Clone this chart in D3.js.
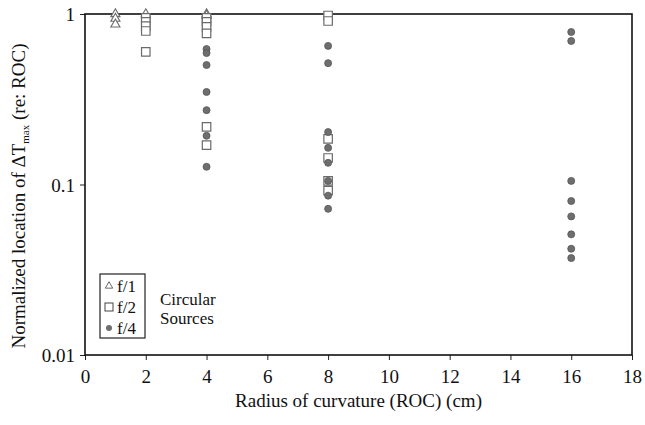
<!DOCTYPE html>
<html>
<head>
<meta charset="utf-8">
<script src="https://cdn.jsdelivr.net/npm/d3@7"></script>
<style>
  body { margin: 0; background: #fff; }
  text { font-family: "Liberation Serif", "DejaVu Serif", serif; fill: #111; }
</style>
</head>
<body>
<div id="chart"></div>
<script>
// Chart dimensions
var width = 645;
var height = 425;
var margin = {top: 14, right: 13, bottom: 70, left: 85};
var markerColor = "#6a6a6a";

// Values (x = ROC in cm, y = normalized location)
var f1X = [1, 1, 1, 2, 4, 4];
var f1Y = [1.0, 0.94, 0.87, 1.0, 1.0, 0.98];

var f2X = [2, 2, 2, 2, 2, 4, 4, 4, 4, 4, 4, 8, 8, 8, 8, 8, 8];
var f2Y = [0.95, 0.9, 0.85, 0.795, 0.6, 0.95, 0.9, 0.84, 0.77, 0.218, 0.17, 0.98, 0.91, 0.185, 0.143, 0.105, 0.092];

var f4X = [4, 4, 4, 4, 4, 4, 4, 8, 8, 8, 8, 8, 8, 8, 8, 16, 16, 16, 16, 16, 16, 16, 16];
var f4Y = [0.623, 0.59, 0.502, 0.349, 0.273, 0.193, 0.127,
           0.65, 0.515, 0.203, 0.164, 0.134, 0.105, 0.086, 0.072,
           0.784, 0.695, 0.105, 0.08, 0.065, 0.051, 0.042, 0.037];

var xTicks = [0, 2, 4, 6, 8, 10, 12, 14, 16, 18];
var yTicks = [0.01, 0.1, 1];
var legendLabels = ["f/1", "f/2", "f/4"];

var svg = d3.select("#chart")
    .append("svg")
    .attr("width", width)
    .attr("height", height);

var x = d3.scaleLinear().domain([0, 18]).range([margin.left, width - margin.right]);
var y = d3.scaleLog().domain([0.01, 1]).range([height - margin.bottom, margin.top]);

// Axes
var xAxis = svg.append("g")
    .attr("transform", "translate(0," + (height - margin.bottom) + ")")
    .call(d3.axisBottom(x).tickValues(xTicks).tickSize(5).tickFormat(d3.format("d")));

var yAxis = svg.append("g")
    .attr("transform", "translate(" + margin.left + ",0)")
    .call(d3.axisLeft(y).tickValues(yTicks).tickSize(5).tickFormat(function(d) { return String(d); }));

[xAxis, yAxis].forEach(function(ax) {
    ax.select(".domain").remove();
    ax.selectAll("line").attr("stroke", "#222");
    ax.selectAll("text")
        .style("font-family", "'Liberation Serif', serif")
        .style("font-size", "19px")
        .attr("fill", "#111");
});
xAxis.selectAll("text").attr("dy", "1.05em");
yAxis.selectAll("text").attr("x", -10).attr("dy", "0.35em");

// Plot frame
svg.append("rect")
    .attr("x", x(0))
    .attr("y", y(1))
    .attr("width", x(18) - x(0))
    .attr("height", y(0.01) - y(1))
    .attr("fill", "none")
    .attr("stroke", "#111")
    .attr("stroke-width", 1.6);

// Marker helpers
var tri = d3.symbol().type(d3.symbolTriangle).size(36);
var sq = d3.symbol().type(d3.symbolSquare).size(72);

function drawTri(g, px, py) {
    g.append("path").attr("d", tri)
        .attr("transform", "translate(" + px + "," + py + ")")
        .attr("fill", "#fff").attr("stroke", markerColor).attr("stroke-width", 1.1);
}
function drawSq(g, px, py) {
    g.append("path").attr("d", sq)
        .attr("transform", "translate(" + px + "," + py + ")")
        .attr("fill", "#fff").attr("stroke", markerColor).attr("stroke-width", 1.2);
}
function drawDot(g, px, py) {
    g.append("circle").attr("cx", px).attr("cy", py).attr("r", 3.5)
        .attr("fill", "#6e6e6e").attr("stroke", "#555").attr("stroke-width", 0.8);
}

var marks = svg.append("g");
f1X.forEach(function(d, i) { drawTri(marks, x(d), y(f1Y[i])); });
f2X.forEach(function(d, i) { drawSq(marks, x(d), y(f2Y[i])); });
f4X.forEach(function(d, i) { drawDot(marks, x(d), y(f4Y[i])); });

// Axis titles
svg.append("text")
    .attr("x", (x(0) + x(18)) / 2)
    .attr("y", 407)
    .attr("text-anchor", "middle")
    .style("font-size", "19px")
    .text("Radius of curvature (ROC) (cm)");

var yTitle = svg.append("text")
    .attr("transform", "translate(25,196) rotate(-90)")
    .attr("text-anchor", "middle")
    .style("font-size", "19px");
yTitle.append("tspan").text("Normalized location of \u0394T");
yTitle.append("tspan").attr("dy", 4).style("font-size", "11px").text("max");
yTitle.append("tspan").attr("dy", -4).text(" (re: ROC)");

// Legend
var legend = svg.append("g");
legend.append("rect")
    .attr("x", 100).attr("y", 274)
    .attr("width", 45).attr("height", 64)
    .attr("fill", "#fff").attr("stroke", "#222").attr("stroke-width", 1.2);

var legendY = [286, 307, 328];
legendLabels.forEach(function(lbl, i) {
    var ly = legendY[i];
    if (i === 0) legend.append("path").attr("d", d3.symbol().type(d3.symbolTriangle).size(24))
        .attr("transform", "translate(109," + ly + ")")
        .attr("fill", "#fff").attr("stroke", markerColor);
    if (i === 1) legend.append("rect").attr("x", 105).attr("y", ly - 4).attr("width", 8).attr("height", 8)
        .attr("fill", "#fff").attr("stroke", "#444");
    if (i === 2) legend.append("circle").attr("cx", 109).attr("cy", ly).attr("r", 3)
        .attr("fill", "#6e6e6e");
    legend.append("text")
        .attr("x", 117).attr("y", ly + 6)
        .style("font-size", "17px")
        .text(lbl);
});

legend.append("text").attr("x", 160).attr("y", 305).style("font-size", "17px").text("Circular");
legend.append("text").attr("x", 160).attr("y", 324).style("font-size", "17px").text("Sources");
</script>
</body>
</html>
